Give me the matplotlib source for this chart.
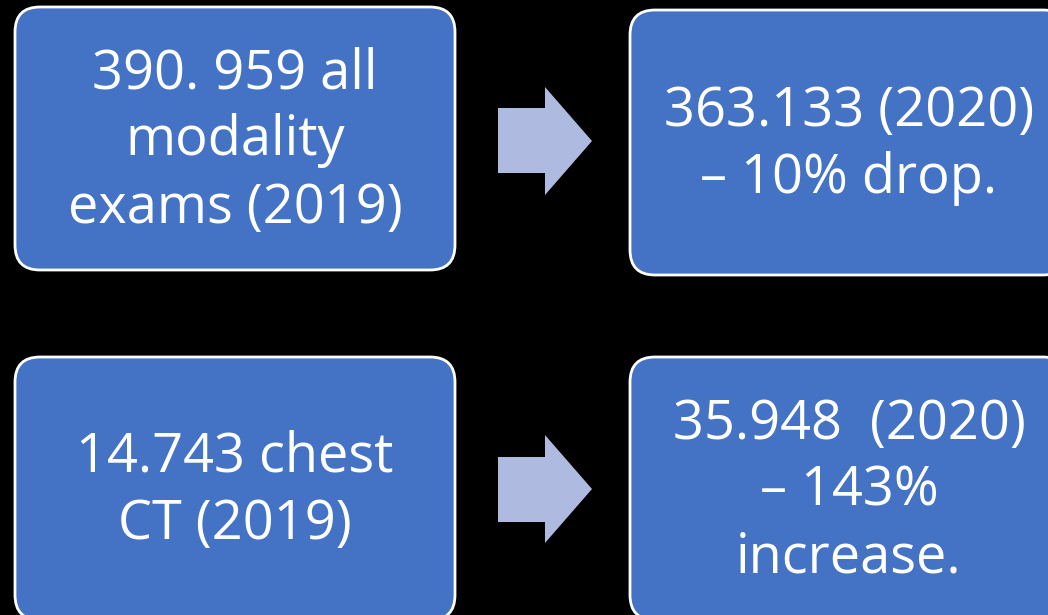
import matplotlib
matplotlib.use("Agg")
import matplotlib.pyplot as plt
from matplotlib.patches import FancyBboxPatch, Polygon

# Content
box_texts = [
    ["390. 959 all", "modality", "exams (2019)"],
    ["363.133 (2020)", "\u2013 10% drop."],
    ["14.743 chest", "CT (2019)"],
    ["35.948  (2020)", "\u2013 143%", "increase."],
]

# Layout (pixel space, y downward)
box_rects = [(15, 7, 440, 263), (630, 10, 438, 265), (15, 357, 440, 263), (630, 357, 438, 263)]
arrow_specs = [(498, 592, 545, 108, 173, 87, 195), (498, 592, 545, 457, 522, 435, 543)]
LINE_STEP = 67
BASELINE_OFFSET = 17

BOX_COLOR = "#4472C4"
ARROW_COLOR = "#AEBADF"

fig = plt.figure(figsize=(10.48, 6.15), dpi=100, facecolor="black")
ax = fig.add_axes([0, 0, 1, 1])
ax.set_xlim(0, 1048)
ax.set_ylim(615, 0)
ax.axis("off")
ax.set_facecolor("black")

for (x, y, w, h) in box_rects:
    ax.add_patch(FancyBboxPatch((x, y), w, h,
                                boxstyle="round,pad=0,rounding_size=25",
                                facecolor=BOX_COLOR, edgecolor="white", linewidth=2))

for (x0, x1, xh, by0, by1, hy0, hy1) in arrow_specs:
    tip_y = (hy0 + hy1) / 2
    pts = [(x0, by0), (xh, by0), (xh, hy0), (x1, tip_y), (xh, hy1), (xh, by1), (x0, by1)]
    ax.add_patch(Polygon(pts, closed=True, facecolor=ARROW_COLOR, edgecolor="none"))

for lines, (x, y, w, h) in zip(box_texts, box_rects):
    cx = x + w / 2
    cy = y + h / 2
    n = len(lines)
    for i, line in enumerate(lines):
        by = cy + BASELINE_OFFSET + (i - (n - 1) / 2) * LINE_STEP
        ax.text(cx, by, line, ha="center", va="baseline", color="white",
                fontsize=39, family=["Open Sans", "DejaVu Sans"])

fig.savefig("out.png", dpi=100, facecolor="black")
